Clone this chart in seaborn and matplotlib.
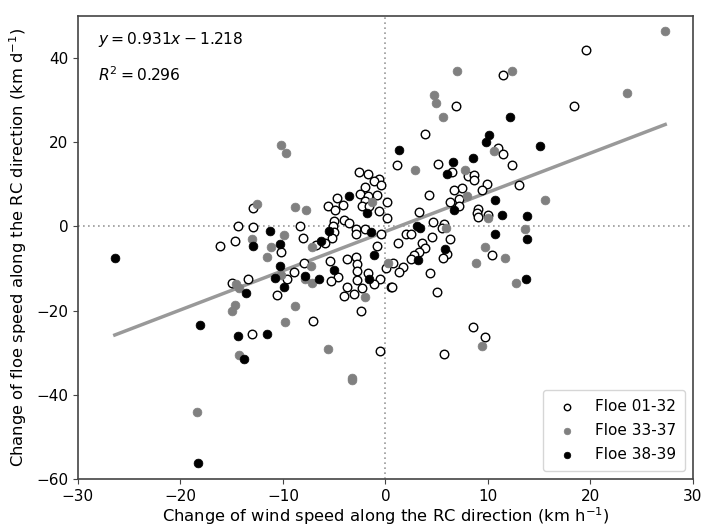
import numpy as np
import pandas as pd
import matplotlib
matplotlib.use("Agg")
import matplotlib.pyplot as plt
import seaborn as sns

# ---- data ----
open_x = [19.6, 11.5, 6.9, 18.4, 3.9, 11.0, 11.5, 1.1, 5.1, 12.4, -2.6, -1.7, -0.6, -1.1, -0.4, -2.0,
          6.5, 8.1, 8.6, 8.6, 9.9, 9.4, 13.0, 7.5, 6.7, -2.5, -1.7, -0.8, -4.7, -2.0, 0.2, 4.3,
          7.2, 6.3, 7.2, -4.1, -2.3, -1.6, -5.6, -12.9, -4.9, -0.6, 3.3, 9.0, 8.9, 9.0, 10.0, 0.2,
          -5.0, -4.0, -3.6, -5.1, 4.6, 5.7, 5.5, -14.4, -12.9, -8.3, -2.9, -2.0, -0.4, 2.0, 2.5, -2.9,
          -5.0, -5.2, -14.7, -16.1, -8.0, -6.8, -5.9, -10.2, -0.8, 1.2, 3.6, 3.9, 3.3, 2.8, 2.5, 4.5,
          6.3, 6.0, 5.6, 10.4, -5.4, -7.9, -2.9, -3.7, -2.8, 0.7, 0.1, 1.7, 1.3, -2.8, -1.7, -8.9,
          4.4, -4.6, -5.3, -2.8, -0.5, -1.1, 0.5, 0.6, -3.7, -2.3, -9.6, -13.4, -15.0, -3.1, -4.0, -10.6,
          5.0, -2.4, -7.1, 8.5, -13.0, 9.7, -0.5, 5.7]
open_y = [41.8, 35.9, 28.5, 28.6, 21.9, 18.5, 17.3, 14.6, 14.9, 14.5, 13.0, 12.4, 11.3, 10.8, 9.9, 9.3,
          12.8, 11.9, 12.3, 11.1, 10.1, 8.7, 9.9, 9.2, 8.6, 7.8, 7.2, 7.5, 6.8, 6.0, 5.7, 7.4,
          6.4, 5.8, 4.8, 5.1, 4.8, 4.8, 4.8, 4.4, 3.8, 3.6, 3.4, 4.2, 3.2, 2.2, 2.8, 2.0,
          1.2, 1.4, 0.9, 0.2, 1.0, 0.6, -0.4, 0.2, -0.2, 0.2, -0.6, -0.6, -1.7, -1.7, -1.7, -1.7,
          -1.4, -2.7, -3.4, -4.7, -2.7, -4.4, -3.9, -6.0, -4.6, -3.9, -4.0, -5.1, -6.2, -6.7, -7.8, -2.5,
          -2.9, -6.6, -7.4, -6.8, -8.2, -8.8, -7.2, -7.8, -9.0, -8.7, -10.0, -9.6, -10.8, -10.6, -11.0, -10.9,
          -11.1, -12.1, -13.0, -12.8, -12.6, -13.7, -14.3, -14.4, -14.3, -14.7, -12.5, -12.4, -13.5, -16.1, -16.6, -16.2,
          -15.5, -20.0, -22.4, -23.8, -25.5, -26.3, -29.7, -30.2]

gray_x = [27.3, 7.0, 12.4, 23.6, 4.7, 4.9, 5.6, -10.2, -9.7, 2.9, 10.6, 7.8, 8.0, 15.6, -12.5, -8.8,
          -7.7, -1.3, 10.0, 5.9, 13.6, -9.9, -13.0, -11.2, -7.2, -11.6, 9.7, 11.7, 8.8, 0.3, -7.3, -10.2,
          -7.8, -7.2, -14.6, -14.3, 12.7, -2.0, -14.7, -15.0, -8.8, -9.8, -5.6, -14.3, 9.4, -3.3, -3.3, -18.4]
gray_y = [46.4, 36.8, 36.9, 31.6, 31.3, 29.2, 26.0, 19.4, 17.4, 13.5, 17.8, 13.3, 7.1, 6.3, 5.4, 4.6,
          4.0, 5.9, 2.0, -0.4, -0.7, -2.0, -3.1, -5.0, -4.8, -7.2, -4.8, -7.4, -8.8, -8.6, -9.4, -11.6,
          -12.6, -13.5, -13.8, -14.6, -13.4, -16.7, -18.7, -20.0, -18.9, -22.6, -29.1, -30.5, -28.3, -36.0, -36.5, -44.0]

black_x = [12.2, 10.1, 9.8, 15.1, 1.3, 8.5, 6.6, 6.0, -3.6, -1.8, 10.7, 6.7, 11.4, 13.8, 3.1, 3.4,
           -11.3, -5.5, -1.4, 10.7, 13.8, -12.9, -10.3, -6.3, 5.8, -1.1, 3.2, -26.4, -10.3, -5.0, -10.8, -7.8,
           -6.5, -1.6, 13.7, -9.9, -13.6, -18.1, -14.4, -11.6, -13.8, -18.3]
black_y = [26.0, 21.6, 20.0, 19.1, 18.1, 16.3, 15.4, 12.4, 7.2, 3.1, 6.2, 3.8, 2.6, 2.4, 0.2, -0.3,
           -1.0, -1.0, -1.4, -1.9, -3.1, -4.7, -4.2, -3.4, -5.4, -6.8, -8.0, -7.5, -9.4, -10.4, -12.2, -11.8,
           -12.4, -12.6, -12.4, -14.5, -15.9, -23.4, -26.0, -25.6, -31.5, -56.1]

group_labels = ["Floe 01-32", "Floe 33-37", "Floe 38-39"]
slope = 0.931
intercept = -1.218
r2 = 0.296

df = pd.concat([
    pd.DataFrame({"x": open_x, "y": open_y, "group": group_labels[0]}),
    pd.DataFrame({"x": gray_x, "y": gray_y, "group": group_labels[1]}),
    pd.DataFrame({"x": black_x, "y": black_y, "group": group_labels[2]}),
], ignore_index=True)

fig = plt.figure(figsize=(7.02, 5.29), dpi=100)
ax = fig.add_axes([0.111, 0.0945, 0.876, 0.8755])

ax.axhline(0, color="#999999", ls=(0, (1, 2)), lw=1.2, zorder=1)
ax.axvline(0, color="#999999", ls=(0, (1, 2)), lw=1.2, zorder=1)

sns.scatterplot(data=df[df.group == group_labels[0]], x="x", y="y", ax=ax,
                facecolor="white", edgecolor="black", linewidth=1.0, s=38,
                label=group_labels[0], zorder=3)
sns.scatterplot(data=df[df.group == group_labels[1]], x="x", y="y", ax=ax,
                color="#808080", edgecolor="#808080", linewidth=0.5, s=40,
                label=group_labels[1], zorder=3)
sns.scatterplot(data=df[df.group == group_labels[2]], x="x", y="y", ax=ax,
                color="black", edgecolor="black", linewidth=0.5, s=40,
                label=group_labels[2], zorder=4)

xs = np.array([df.x.min(), df.x.max()])
sns.lineplot(x=xs, y=slope * xs + intercept, ax=ax, color="#999999", lw=2.5, zorder=2)

ax.set_xlim(-30, 30)
ax.set_ylim(-60, 50)
ax.set_xticks([-30, -20, -10, 0, 10, 20, 30])
ax.set_yticks([-60, -40, -20, 0, 20, 40])
ax.tick_params(labelsize=11, color="#444444")
for sp in ax.spines.values():
    sp.set_color("#444444")
    sp.set_linewidth(1.2)

ax.set_xlabel("Change of wind speed along the RC direction (km h$^{-1}$)", fontsize=11.8, labelpad=1)
ax.set_ylabel("Change of floe speed along the RC direction (km d$^{-1}$)", fontsize=11.8, labelpad=5)

ax.text(0.033, 0.948, f"$y = {slope}x - {abs(intercept)}$", transform=ax.transAxes,
        fontsize=11.2, va="center", ha="left")
ax.text(0.033, 0.873, f"$R^2 = {r2}$", transform=ax.transAxes,
        fontsize=11.2, va="center", ha="left")

leg = ax.legend(loc="lower right", fontsize=11, markerscale=0.75, handletextpad=0.8,
                borderpad=0.6, labelspacing=0.6, frameon=True)

fig.savefig("out.png", dpi=100)
